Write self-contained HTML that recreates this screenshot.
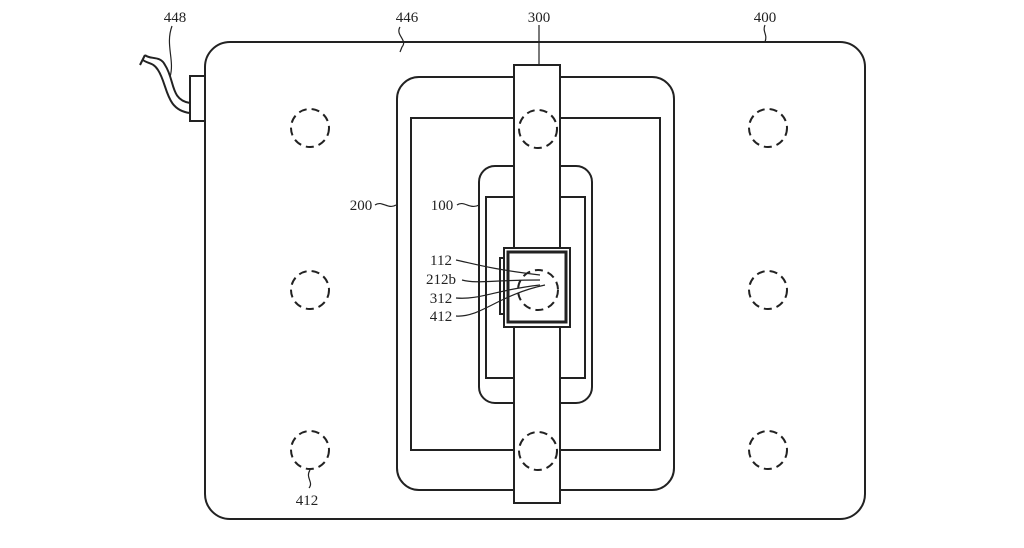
<!DOCTYPE html>
<html><head><style>body{margin:0;background:#fff}svg{display:block}text{font-family:"Liberation Serif",serif;font-size:15px;fill:#222}</style></head>
<body>
<svg width="1024" height="548" viewBox="0 0 1024 548" xmlns="http://www.w3.org/2000/svg">
<g fill="none" stroke="#222" stroke-width="2">
<rect x="205" y="42" width="660" height="477" rx="25"/>
<rect x="190" y="76" width="15" height="45"/>
<path d="M190 103 C170 100 175 80 165 65 C160 55 150 60 145 55"/>
<path d="M190 113 C165 110 168 85 158 70 C153 62 148 64 143 60"/>
<path d="M145 55 L140 65"/>
<rect x="397" y="77" width="277" height="413" rx="22"/>
<rect x="411" y="118" width="249" height="332"/>
<rect x="479" y="166" width="113" height="237" rx="16"/>
<rect x="486" y="197" width="99" height="181"/>
<rect x="514" y="65" width="46" height="438" fill="#fff"/>
<rect x="504" y="248" width="66" height="79" fill="#fff"/>
<rect x="508" y="252" width="58" height="70" stroke-width="3"/>
<rect x="500" y="258" width="4" height="56"/>
<g stroke-dasharray="8 5">
<circle cx="310" cy="128" r="19"/><circle cx="538" cy="129" r="19"/><circle cx="768" cy="128" r="19"/>
<circle cx="310" cy="290" r="19"/><circle cx="538" cy="290" r="20"/><circle cx="768" cy="290" r="19"/>
<circle cx="310" cy="450" r="19"/><circle cx="538" cy="451" r="19"/><circle cx="768" cy="450" r="19"/>
</g>
<g stroke-width="1.2">
<path d="M539 25 L539 65"/>
<path d="M765 25 C762 32 768 34 765 42"/>
<path d="M400 27 C395 35 408 40 402 47 L400 52"/>
<path d="M172 26 C165 45 175 60 170 77"/>
<path d="M375 205 C382 200 388 210 396 205"/>
<path d="M457 205 C464 200 470 210 479 205"/>
<path d="M456 260 C475 264 490 269 540 275"/>
<path d="M462 280 C478 284 490 280 540 280"/>
<path d="M456 298 C480 300 495 290 540 285"/>
<path d="M456 316 C480 318 498 295 545 285"/>
<path d="M310 470 C305 478 314 482 309 488"/>
</g>
</g>
<text x="175" y="22" text-anchor="middle">448</text>
<text x="407" y="22" text-anchor="middle">446</text>
<text x="539" y="22" text-anchor="middle">300</text>
<text x="765" y="22" text-anchor="middle">400</text>
<text x="361" y="210" text-anchor="middle">200</text>
<text x="442" y="210" text-anchor="middle">100</text>
<text x="441" y="265" text-anchor="middle">112</text>
<text x="441" y="284" text-anchor="middle">212b</text>
<text x="441" y="303" text-anchor="middle">312</text>
<text x="441" y="321" text-anchor="middle">412</text>
<text x="307" y="505" text-anchor="middle">412</text>
</svg>
</body></html>
